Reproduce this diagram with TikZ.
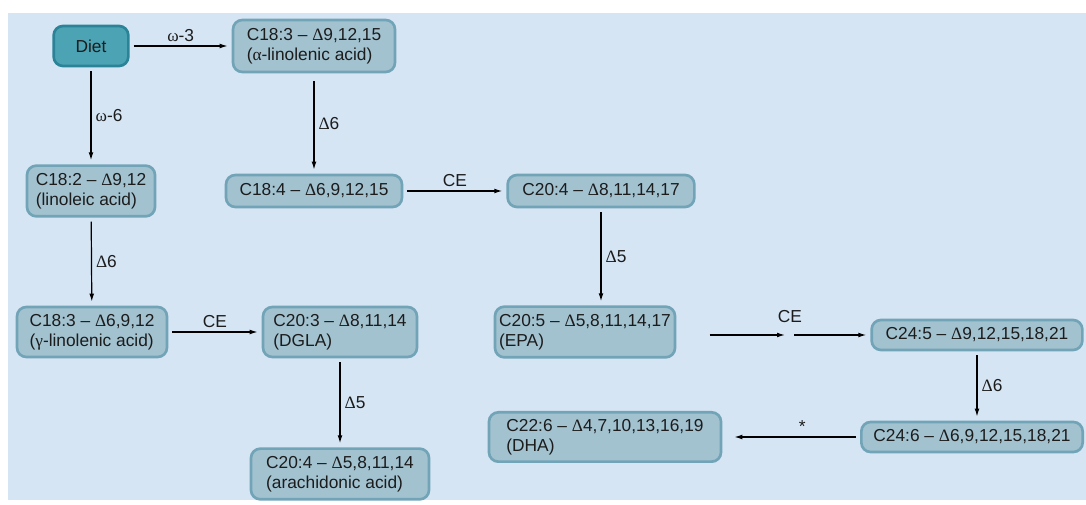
\documentclass[tikz,border=0pt]{standalone}
\usepackage{fontspec}
\setmainfont{Liberation Sans}
\newfontfamily\grk{Liberation Serif}
\usetikzlibrary{arrows.meta}

\definecolor{panel}{HTML}{D5E5F4}
\definecolor{boxfill}{HTML}{A2C2D0}
\definecolor{boxedge}{HTML}{72A4B7}
\definecolor{dietfill}{HTML}{4BA3B4}
\definecolor{dietedge}{HTML}{2B8397}
\definecolor{ink}{HTML}{1C1C1C}

\newcommand{\D}{{\grk Δ}}

\begin{document}
\begin{tikzpicture}[x=0.75pt,y=0.75pt,yscale=-1,xscale=1,
  font=\fontsize{13}{15}\selectfont,
  acid/.style={draw=boxedge,line width=2pt,fill=boxfill,rounded corners=7pt,
    align=left,inner sep=2pt,text=ink},
  dietbox/.style={acid,draw=dietedge,fill=dietfill},
  arr/.style={-{Latex[length=6pt,width=3.6pt]},line width=0.9pt,black,
    shorten <=3pt,shorten >=3pt},
  lbl/.style={text=ink,inner sep=3pt}]

\useasboundingbox (0,0) rectangle (1086,505);
\fill [panel] (8,13) rectangle (1086,500);

% boxes
\node [dietbox,minimum width=56pt,minimum height=30pt] (diet) at (91,46) {Diet};
\node [acid,minimum width=121.5pt,minimum height=39pt] (ala) at (314,46)
  {C18:3 -- \D9,12,15\\({\grk α}-linolenic acid)};
\node [acid,minimum width=96pt,minimum height=38pt] (la) at (91,191)
  {C18:2 -- \D9,12\\(linoleic acid)};
\node [acid,minimum width=132pt,minimum height=24pt] (sda) at (314,191)
  {C18:4 -- \D6,9,12,15};
\node [acid,minimum width=140pt,minimum height=24pt] (eta) at (601,191)
  {C20:4 -- \D8,11,14,17};
\node [acid,minimum width=112.5pt,minimum height=37.5pt] (gla) at (92,332)
  {C18:3 -- \D6,9,12\\({\grk γ}-linolenic acid)};
\node [acid,minimum width=115.5pt,minimum height=37.5pt] (dgla) at (340,332)
  {C20:3 -- \D8,11,14\\(DGLA)};
\node [acid,minimum width=133.5pt,minimum height=38pt] (aa) at (340,474)
  {C20:4 -- \D5,8,11,14\\(arachidonic acid)};
\node [acid,minimum width=135pt,minimum height=38pt] (epa) at (585,332)
  {C20:5 -- \D5,8,11,14,17\\(EPA)};
\node [acid,minimum width=158pt,minimum height=22.5pt] (dpa) at (977,335)
  {C24:5 -- \D9,12,15,18,21};
\node [acid,minimum width=166pt,minimum height=22.5pt] (thp) at (972,437)
  {C24:6 -- \D6,9,12,15,18,21};
\node [acid,minimum width=174pt,minimum height=37pt] (dha) at (605,437)
  {C22:6 -- \D4,7,10,13,16,19\\(DHA)};

% arrows
\draw [arr] (diet) -- node [lbl,above] {{\grk ω}-3} (ala);
\draw [arr] (diet) -- node [lbl,right] {{\grk ω}-6} (la);
\draw [arr,shorten <=6pt] (ala) -- node [lbl,right] {\D6} (sda);
\draw [arr] (sda) -- node [lbl,above] {CE} (eta);
\draw [arr] (eta.south) -- node [lbl,right] {\D5} (eta.south |- epa.north);
\draw [arr] (la) -- node [lbl,right] {\D6} (gla);
\draw [arr] (gla) -- node [lbl,above] {CE} (dgla);
\draw [arr] (dgla) -- node [lbl,right] {\D5} (aa);

\coordinate (ce1) at (789,335);
\coordinate (ce2) at (790,335);
\draw [arr,shorten <=25pt] (epa.east |- dpa.west) -- (ce1);
\draw [arr] (ce2) -- (dpa.west);
\node [lbl,above] (celbl) at (790,327) {CE};

\draw [arr] (dpa.south) -- node [lbl,right] {\D6} (dpa.south |- thp.north);
\draw [arr,shorten >=9pt] (thp) -- node [lbl,above,pos=0.42] {*} (dha);

\end{tikzpicture}
\end{document}
